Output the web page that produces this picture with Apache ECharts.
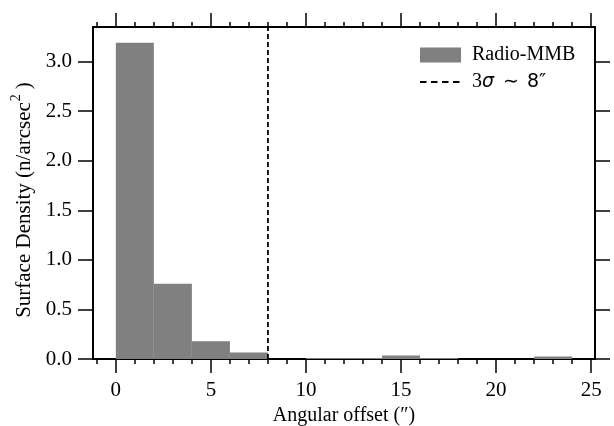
<!DOCTYPE html>
<html>
<head>
<meta charset="utf-8">
<script src="https://cdn.jsdelivr.net/npm/echarts@6/dist/echarts.min.js"></script>
<style>
  html, body { margin: 0; padding: 0; background: #fff; }
  #chart { width: 614px; height: 426px; }
</style>
</head>
<body>
<div id="chart"></div>
<script>
// Histogram of angular offsets (bin edges in arcsec) and surface density per bin
const binEdges = [0, 2, 4, 6, 8, 10, 12, 14, 16, 18, 20, 22, 24];
const densities = [3.19, 0.76, 0.18, 0.065, 0, 0.01, 0.01, 0.035, 0.01, 0, 0, 0.025];
const thresholdX = 8;
const xMajorTicks = [0, 5, 10, 15, 20, 25];
const xMinorTicks = [-1, 1, 2, 3, 4, 6, 7, 8, 9, 11, 12, 13, 14, 16, 17, 18, 19, 21, 22, 23, 24];
const yTicks = [0, 0.5, 1.0, 1.5, 2.0, 2.5, 3.0];
const xRange = [-1.2, 25.2];
const yRange = [0, 3.35];
const histName = 'Radio-MMB';
const lineName = '3σ ∼ 8″';

const SERIF = "'Liberation Serif', 'Times New Roman', serif";
const SANS = "'DejaVu Sans', sans-serif";

const binData = densities.map((v, i) => [binEdges[i], binEdges[i + 1], v]);

function xAxisDef(pos, values, len, showLine, showLabel) {
  return {
    type: 'value', position: pos, min: xRange[0], max: xRange[1],
    axisLine: { show: showLine, onZero: false, lineStyle: { color: '#000', width: 2 } },
    axisTick: { show: true, inside: false, length: len, customValues: values,
                lineStyle: { color: '#000', width: 1.5 } },
    axisLabel: { show: showLabel, customValues: values, margin: 21,
                 fontFamily: SERIF, fontSize: 21, color: '#000' },
    splitLine: { show: false }
  };
}

function yAxisDef(pos, showLabel) {
  return {
    type: 'value', position: pos, min: yRange[0], max: yRange[1],
    axisLine: { show: true, onZero: false, lineStyle: { color: '#000', width: 2 } },
    axisTick: { show: true, inside: false, length: 15, customValues: yTicks,
                lineStyle: { color: '#000', width: 1.5 } },
    axisLabel: { show: showLabel, customValues: yTicks, margin: 21,
                 formatter: v => v.toFixed(1),
                 fontFamily: SERIF, fontSize: 21, color: '#000' },
    splitLine: { show: false }
  };
}

const xMain = xAxisDef('bottom', xMajorTicks, 14, true, true);
xMain.name = 'Angular offset (″)';
xMain.nameLocation = 'middle';
xMain.nameGap = 45;
xMain.nameTextStyle = { fontFamily: SERIF, fontSize: 20, color: '#000' };

const yMain = yAxisDef('left', true);
yMain.name = 'Surface Density (n/arcsec{sup|2})';
yMain.nameLocation = 'middle';
yMain.nameGap = 41;
yMain.nameTextStyle = {
  fontFamily: SERIF, fontSize: 21, color: '#000', padding: [0, 14, 0, 0],
  rich: { sup: { fontFamily: SERIF, fontSize: 14, color: '#000', padding: [0, 5, 16, 1] } }
};

const option = {
  animation: false,
  backgroundColor: '#fff',
  grid: { left: 93, right: 19, top: 27, bottom: 67, outerBoundsMode: 'none', containLabel: false },
  xAxis: [
    xMain,
    xAxisDef('bottom', xMinorTicks, 5, false, false),
    xAxisDef('top', xMajorTicks, 14, true, false),
    xAxisDef('top', xMinorTicks, 5, false, false)
  ],
  yAxis: [yMain, yAxisDef('right', false)],
  legend: {
    orient: 'vertical', left: 414, top: 40,
    itemWidth: 41, itemHeight: 15, itemGap: 7,
    textStyle: {
      fontFamily: SERIF, fontSize: 20, color: '#000', padding: [0, 0, 0, 6],
      rich: {
        s: { fontFamily: SERIF, fontSize: 20, color: '#000' },
        i: { fontFamily: SANS, fontStyle: 'italic', fontSize: 19, color: '#000' },
        t: { fontFamily: SANS, fontSize: 19, color: '#000', padding: [0, 8, 0, 9] },
        m: { fontFamily: SANS, fontSize: 19, color: '#000' }
      }
    },
    formatter: name => name === lineName ? '{s|3}{i|σ}{t|∼}{m|8″}' : name,
    data: [
      { name: histName, icon: 'rect' },
      { name: lineName,
        itemStyle: { color: 'rgba(0,0,0,0)', borderWidth: 0 },
        lineStyle: { color: '#000', width: 2, type: [6.5, 4.5] } }
    ]
  },
  series: [
    {
      name: histName,
      type: 'custom',
      xAxisIndex: 0, yAxisIndex: 0,
      itemStyle: { color: '#808080' },
      encode: { x: [0, 1], y: 2 },
      data: binData,
      renderItem: (params, api) => {
        const p0 = api.coord([api.value(0), api.value(2)]);
        const p1 = api.coord([api.value(1), 0]);
        return {
          type: 'rect',
          shape: { x: p0[0], y: p0[1], width: p1[0] - p0[0], height: p1[1] - p0[1] },
          style: { fill: '#808080' }
        };
      }
    },
    {
      name: lineName,
      type: 'line',
      xAxisIndex: 0, yAxisIndex: 0,
      symbol: 'none',
      data: [[thresholdX, yRange[0]], [thresholdX, yRange[1]]],
      itemStyle: { color: 'rgba(0,0,0,0)' },
      lineStyle: { color: '#000', width: 1.8, type: [5, 3] },
      z: 3
    }
  ]
};

const chart = echarts.init(document.getElementById('chart'), null, { renderer: 'canvas' });
chart.setOption(option);
</script>
</body>
</html>
